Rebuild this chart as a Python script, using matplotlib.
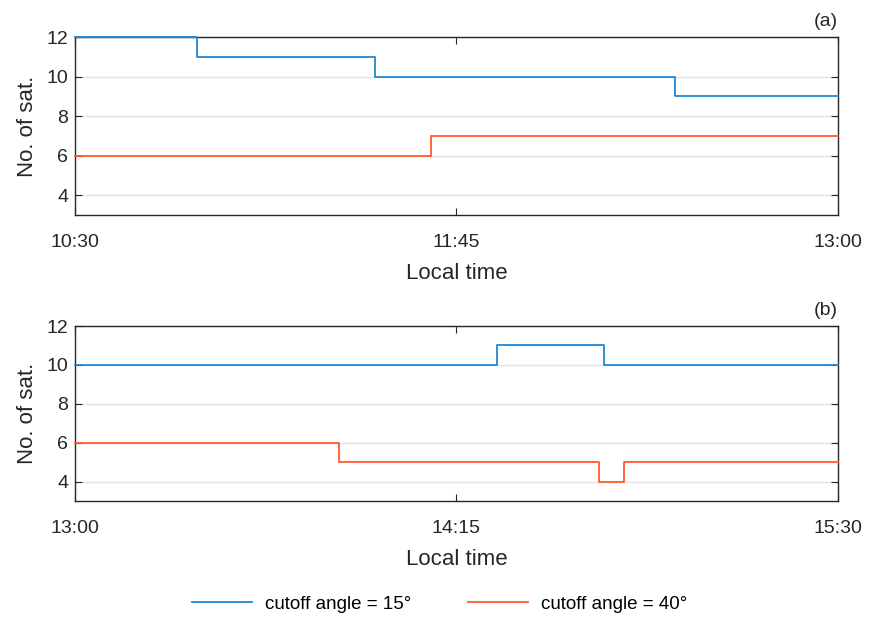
import pandas as pd
import matplotlib
matplotlib.use('Agg')
import matplotlib.pyplot as plt
import matplotlib.dates as mdates

plt.rcParams['font.family'] = ['Liberation Sans', 'DejaVu Sans']

# panel (a): 10:30 - 13:00
a_times_15 = ['10:30', '10:54', '11:29', '12:28', '13:00']
a_sats_15 = [12, 11, 10, 9, 9]
a_times_40 = ['10:30', '11:40', '13:00']
a_sats_40 = [6, 7, 7]
a_ticks = ['10:30', '11:45', '13:00']

# panel (b): 13:00 - 15:30
b_times_15 = ['13:00', '14:23', '14:44', '15:30']
b_sats_15 = [10, 11, 10, 10]
b_times_40 = ['13:00', '13:52', '14:43', '14:48', '15:30']
b_sats_40 = [6, 5, 4, 5, 5]
b_ticks = ['13:00', '14:15', '15:30']

labels = ['cutoff angle = 15°', 'cutoff angle = 40°']
c15 = '#1f88d4'
c40 = '#ff5a2a'


def t(lst):
    return pd.to_datetime(['2020-01-01 ' + s for s in lst])


fig = plt.figure(figsize=(8.69, 6.17), dpi=100)
ax1 = fig.add_axes([0.0863, 0.6515, 0.878, 0.2885])
ax2 = fig.add_axes([0.0863, 0.188, 0.878, 0.2836])

panels = [
    (ax1, a_times_15, a_sats_15, a_times_40, a_sats_40, a_ticks, '(a)'),
    (ax2, b_times_15, b_sats_15, b_times_40, b_sats_40, b_ticks, '(b)'),
]

for ax, t15, s15, t40, s40, ticks, tag in panels:
    l1, = ax.plot(t(t15), s15, drawstyle='steps-post', color=c15, lw=1.3,
                  clip_on=False, zorder=3)
    l2, = ax.plot(t(t40), s40, drawstyle='steps-post', color=c40, lw=1.3,
                  clip_on=False, zorder=3)
    tk = t(ticks)
    ax.set_xlim(tk[0], tk[-1])
    ax.set_xticks(tk)
    ax.xaxis.set_major_formatter(mdates.DateFormatter('%H:%M'))
    ax.set_ylim(3, 12)
    ax.set_yticks([4, 6, 8, 10, 12])
    ax.yaxis.grid(True, color='#e3e3e3', lw=1)
    ax.set_axisbelow(True)
    ax.tick_params(direction='in', top=True, right=True, length=5,
                   labelsize=14, colors='#262626')
    ax.tick_params(axis='x', pad=14)
    ax.tick_params(axis='y', pad=5)
    for sp in ax.spines.values():
        sp.set_color('#262626')
        sp.set_linewidth(1)
    ax.set_xlabel('Local time', fontsize=16, color='#262626', labelpad=8)
    ax.set_ylabel('No. of sat.', fontsize=16, color='#262626', labelpad=6)
    ax.text(1.0, 1.04, tag, transform=ax.transAxes, ha='right', va='bottom',
            fontsize=14, color='#262626')

fig.legend([l1, l2], labels, loc='center', bbox_to_anchor=(0.506, 0.021),
           ncol=2, frameon=False, fontsize=13.5, handlelength=3.2,
           columnspacing=3.0, handletextpad=0.7)

fig.savefig('out.png', dpi=100)
